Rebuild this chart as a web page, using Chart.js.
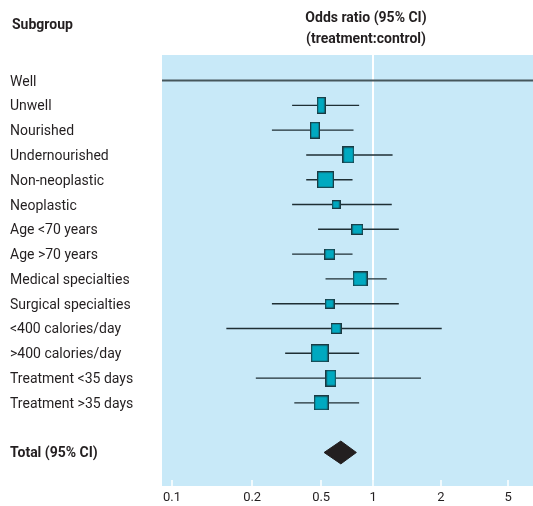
<!DOCTYPE html>
<html>
<head>
<meta charset="utf-8">
<script src="https://cdn.jsdelivr.net/npm/chart.js@4.4.1/dist/chart.umd.min.js"></script>
<style>
  html, body { margin: 0; padding: 0; background: #fff; }
</style>
</head>
<body>
<canvas id="forest" width="533" height="506"></canvas>
<script>
// Subgroups, top to bottom
const subgroups = ['Well', 'Unwell', 'Nourished', 'Undernourished', 'Non-neoplastic', 'Neoplastic',
    'Age <70 years', 'Age >70 years', 'Medical specialties', 'Surgical specialties',
    '<400 calories/day', '>400 calories/day', 'Treatment <35 days', 'Treatment >35 days'];
// Odds ratio and 95% CI per subgroup ("Well" has no estimate, its interval is unbounded)
const oddsRatio = [null, 0.50, 0.46, 0.72, 0.53, 0.61, 0.81, 0.56, 0.84, 0.56, 0.61, 0.49, 0.57, 0.50];
const ciLower   = [0.01, 0.34, 0.26, 0.41, 0.41, 0.34, 0.48, 0.34, 0.53, 0.26, 0.16, 0.31, 0.21, 0.35];
const ciUpper   = [100,  0.83, 0.77, 1.22, 0.76, 1.21, 1.30, 0.76, 1.15, 1.30, 2.02, 0.83, 1.63, 0.83];
// Pooled result
const totalLabel = 'Total (95% CI)';
const totalOR = 0.65;
const totalCI = [0.52, 0.80];
// Axis ticks
const xTicks = [0.1, 0.2, 0.5, 1, 2, 5];

// ---- styles / layout ----
const textColor = '#231f20';
const fontFamily = 'Roboto, "Liberation Sans", sans-serif';
const boxFill = '#00a9c0';
const boxEdge = '#1c3a42';
// box size (w, h in px) per subgroup
const boxSizes = [[0, 0], [7, 15], [8, 15], [10, 15], [15, 15], [7, 7], [10, 9], [9, 9],
    [13, 13], [8, 8], [9, 9], [16, 16], [9, 15], [13, 13]];
// the printed axis is not a clean log scale: where each stop sits across the plot width
const axisStops = [0.0917, 0.1, 0.2, 0.5, 1, 2, 5, 7.04];
const stopFracs = [0, 0.027, 0.243, 0.429, 0.569, 0.752, 0.933, 1];

const totalRow = subgroups.length + 1;
const rowLabels = subgroups.concat(['', totalLabel]);

function toFrac(v) {
    const lv = Math.log10(v);
    const ls = axisStops.map(Math.log10);
    let i = 0;
    while (i < ls.length - 2 && lv > ls[i + 1]) i++;
    return stopFracs[i] + (lv - ls[i]) / (ls[i + 1] - ls[i]) * (stopFracs[i + 1] - stopFracs[i]);
}
function fromFrac(f) {
    const ls = axisStops.map(Math.log10);
    let i = 0;
    while (i < stopFracs.length - 2 && f > stopFracs[i + 1]) i++;
    const lv = ls[i] + (f - stopFracs[i]) / (stopFracs[i + 1] - stopFracs[i]) * (ls[i + 1] - ls[i]);
    return Math.pow(10, lv);
}

const LogScale = Chart.LogarithmicScale || Chart.registry.getScale('logarithmic');
class ForestScale extends LogScale {
    getPixelForValue(value) {
        if (value === null || value === undefined || isNaN(value) || value <= 0) return NaN;
        return this.getPixelForDecimal(toFrac(value));
    }
    getValueForPixel(pixel) {
        return fromFrac(this.getDecimalForPixel(pixel));
    }
}
ForestScale.id = 'forestlog';
ForestScale.defaults = LogScale.defaults;
Chart.register(ForestScale);

// small rectangles for the estimates
function boxImage(w, h) {
    const c = document.createElement('canvas');
    c.width = w + 2;
    c.height = h + 2;
    const g = c.getContext('2d');
    g.fillStyle = boxEdge;
    g.fillRect(0, 0, c.width, c.height);
    g.fillStyle = boxFill;
    g.fillRect(1.3, 1.3, c.width - 2.6, c.height - 2.6);
    return c;
}

const boxData = [];
const boxStyles = [];
const ciData = [];
subgroups.forEach((s, i) => {
    if (i === 0) return;
    boxData.push({ x: oddsRatio[i], y: i });
    boxStyles.push(boxImage(boxSizes[i][0], boxSizes[i][1]));
    ciData.push({ x: ciLower[i], y: i }, { x: ciUpper[i], y: i }, { x: null, y: i });
});

const diamondHalf = 0.46; // half height of the diamond, in rows
const diamondData = [
    { x: totalCI[0], y: totalRow },
    { x: totalOR, y: totalRow - diamondHalf },
    { x: totalCI[1], y: totalRow },
    { x: totalOR, y: totalRow + diamondHalf },
    { x: totalCI[0], y: totalRow }
];

const backgroundPlugin = {
    id: 'panel',
    beforeDraw(chart) {
        const a = chart.chartArea;
        const ctx = chart.ctx;
        ctx.save();
        ctx.fillStyle = '#c8e9f8';
        ctx.fillRect(a.left, a.top, a.right - a.left, a.bottom - a.top + 6);
        ctx.restore();
    }
};

const headerPlugin = {
    id: 'headers',
    afterDraw(chart) {
        const ctx = chart.ctx;
        ctx.save();
        ctx.fillStyle = textColor;
        ctx.font = 'bold 14px ' + fontFamily;
        ctx.textBaseline = 'middle';
        ctx.textAlign = 'left';
        ctx.fillText('Subgroup', 12, 25);
        ctx.textAlign = 'center';
        ctx.fillText('Odds ratio (95% CI)', 366, 18);
        ctx.fillText('(treatment:control)', 366, 39);
        ctx.restore();
    }
};

const chart = new Chart(document.getElementById('forest'), {
    type: 'scatter',
    data: {
        datasets: [
            {
                type: 'scatter',
                data: boxData,
                pointStyle: boxStyles,
                pointRadius: 4,
                order: 0
            },
            {
                type: 'line',
                data: ciData,
                borderColor: '#1f2f34',
                borderWidth: 1.4,
                pointRadius: 0,
                spanGaps: false,
                fill: false,
                order: 2
            },
            {
                type: 'line',
                data: [{ x: ciLower[0], y: 0 }, { x: ciUpper[0], y: 0 }],
                borderColor: '#46575c',
                borderWidth: 2,
                pointRadius: 0,
                fill: false,
                order: 2
            },
            {
                type: 'line',
                data: diamondData,
                borderColor: '#231f20',
                borderWidth: 1,
                backgroundColor: '#231f20',
                pointRadius: 0,
                fill: 'shape',
                order: 1
            }
        ]
    },
    options: {
        responsive: false,
        animation: false,
        events: [],
        layout: { autoPadding: false, padding: { left: 10, top: 55, right: 0, bottom: 0 } },
        plugins: {
            legend: { display: false },
            tooltip: { enabled: false }
        },
        scales: {
            x: {
                type: 'forestlog',
                min: axisStops[0],
                max: axisStops[axisStops.length - 1],
                afterBuildTicks: axis => { axis.ticks = xTicks.map(v => ({ value: v })); },
                afterFit: axis => { axis.height = 26; },
                border: { display: false },
                grid: {
                    drawOnChartArea: true,
                    drawTicks: true,
                    tickLength: 6,
                    color: c => (c.tick && c.tick.value === 1 ? '#ffffff' : 'rgba(0,0,0,0)'),
                    lineWidth: c => (c.tick && c.tick.value === 1 ? 2 : 0),
                    tickColor: '#ffffff',
                    tickWidth: 1.5
                },
                ticks: {
                    autoSkip: false,
                    maxRotation: 0,
                    padding: 4,
                    color: textColor,
                    font: { family: fontFamily, size: 13 },
                    callback: v => String(v)
                }
            },
            y: {
                type: 'linear',
                reverse: true,
                min: -1.03,
                max: totalRow + 1.11,
                afterBuildTicks: axis => { axis.ticks = rowLabels.map((l, i) => ({ value: i })); },
                afterFit: axis => { axis.width = 152; },
                border: { display: false },
                grid: { display: false },
                ticks: {
                    autoSkip: false,
                    crossAlign: 'far',
                    padding: 0,
                    labelOffset: 1.5,
                    color: textColor,
                    font: c => ({
                        family: fontFamily,
                        size: 14,
                        weight: c.tick && c.tick.value === totalRow ? 'bold' : 'normal'
                    }),
                    callback: v => rowLabels[v] || ''
                }
            }
        }
    },
    plugins: [backgroundPlugin, headerPlugin]
});
</script>
</body>
</html>
